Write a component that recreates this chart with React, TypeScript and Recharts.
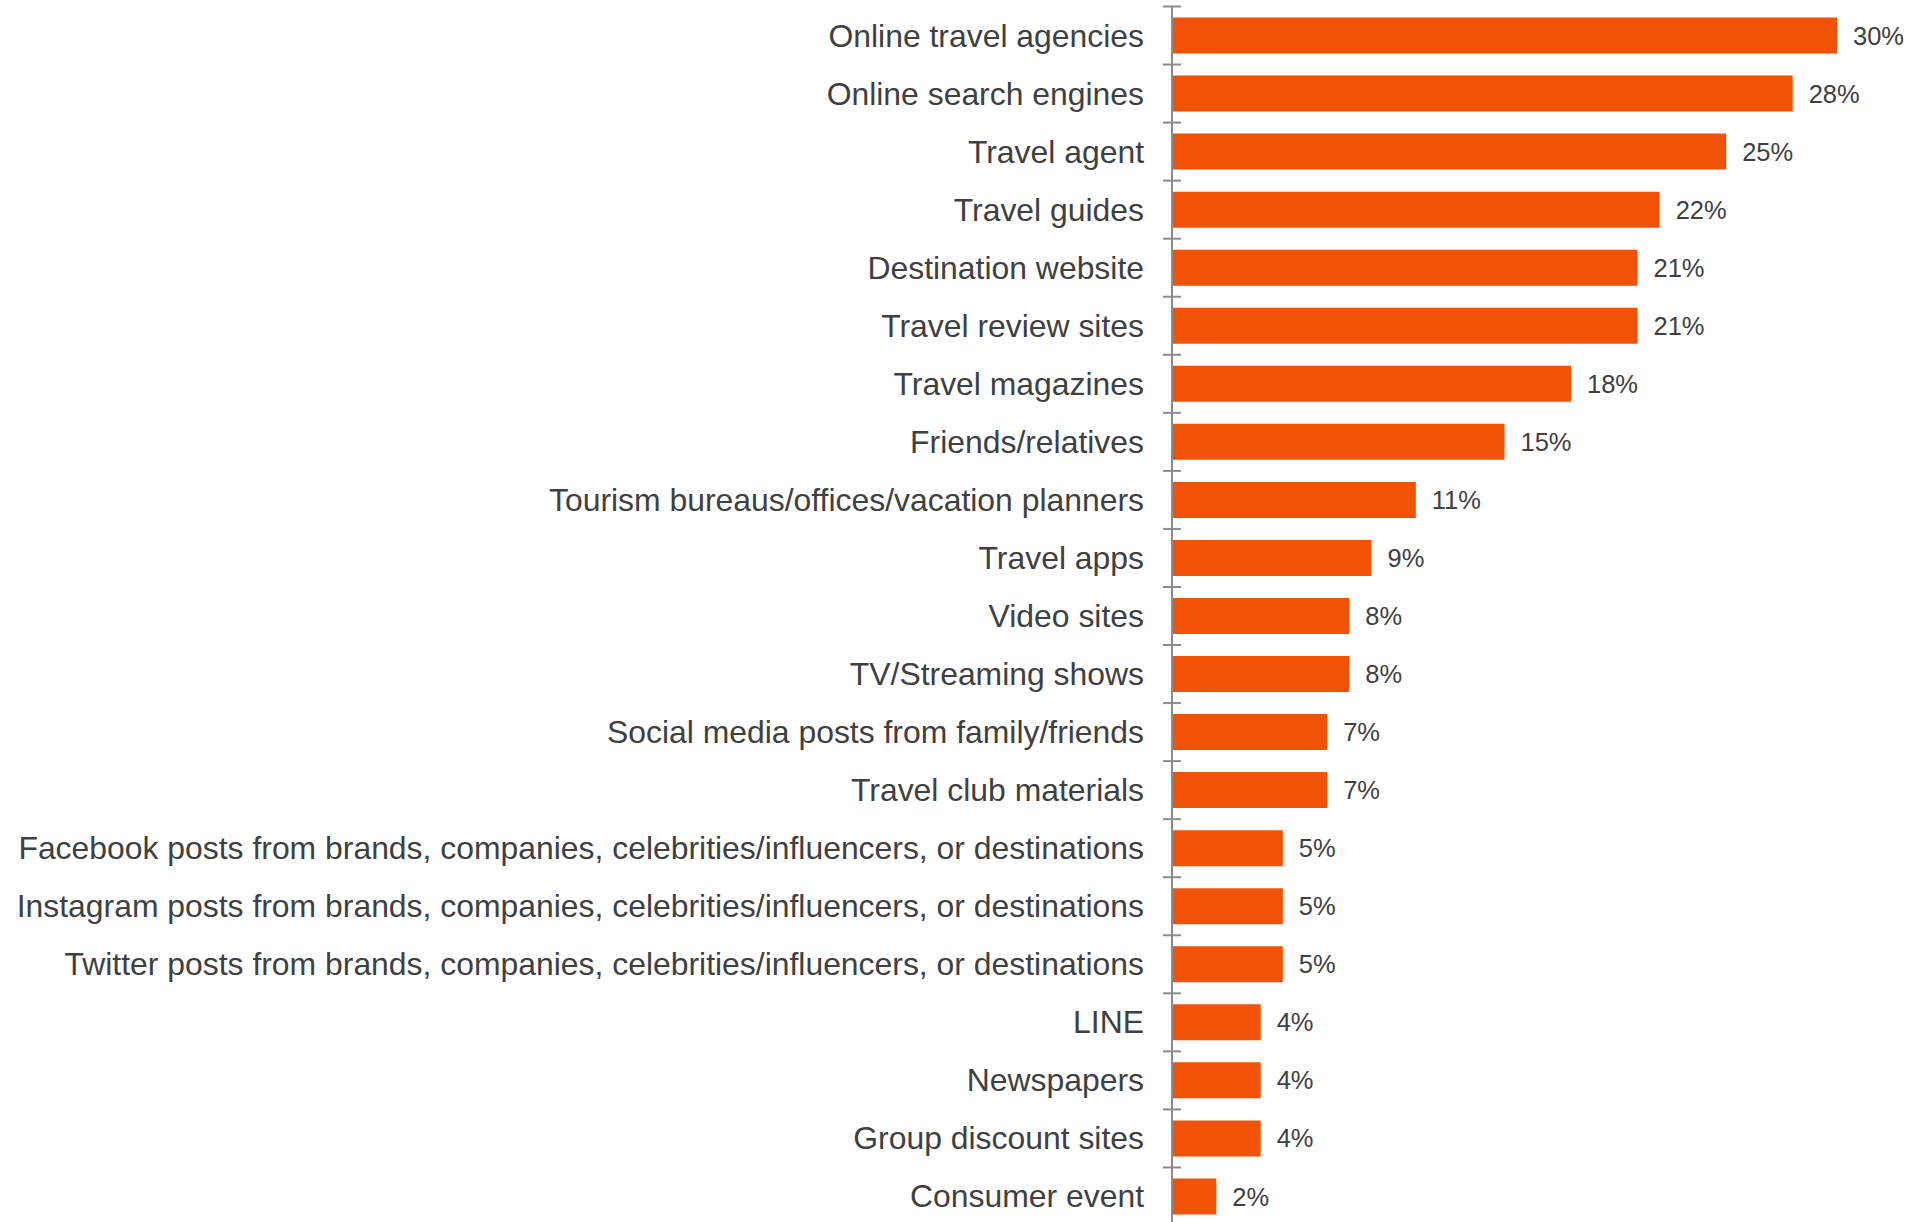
import React from "react";
import { BarChart, Bar, XAxis, YAxis, LabelList } from "recharts";

const categories = [
  "Online travel agencies",
  "Online search engines",
  "Travel agent",
  "Travel guides",
  "Destination website",
  "Travel review sites",
  "Travel magazines",
  "Friends/relatives",
  "Tourism bureaus/offices/vacation planners",
  "Travel apps",
  "Video sites",
  "TV/Streaming shows",
  "Social media posts from family/friends",
  "Travel club materials",
  "Facebook posts from brands, companies, celebrities/influencers, or destinations",
  "Instagram posts from brands, companies, celebrities/influencers, or destinations",
  "Twitter posts from brands, companies, celebrities/influencers, or destinations",
  "LINE",
  "Newspapers",
  "Group discount sites",
  "Consumer event",
];

const shares = [30, 28, 25, 22, 21, 21, 18, 15, 11, 9, 8, 8, 7, 7, 5, 5, 5, 4, 4, 4, 2];

const data = categories.map((name, i) => ({ name, value: shares[i] }));

const WIDTH = 1906;
const HEIGHT = 1222;
const AXIS_W = 1172;
const TOP = 6.5;
const BOTTOM = -3.5;
const BAND = (HEIGHT - TOP - BOTTOM) / categories.length;
const FONT = "'Liberation Sans', Arial, sans-serif";

function CategoryTick(props: any) {
  const { y, payload, index } = props;
  const last = index === categories.length - 1;
  return (
    <g>
      <text
        x={AXIS_W - 28}
        y={y}
        textAnchor="end"
        dominantBaseline="central"
        fontSize={31.9}
        fontFamily={FONT}
        fill="#404040"
      >
        {payload.value}
      </text>
      <line x1={AXIS_W - 9} x2={AXIS_W + 9} y1={y - BAND / 2} y2={y - BAND / 2} stroke="#8c8c8c" strokeWidth={2} />
      {last && (
        <line x1={AXIS_W - 9} x2={AXIS_W + 9} y1={y + BAND / 2} y2={y + BAND / 2} stroke="#8c8c8c" strokeWidth={2} />
      )}
    </g>
  );
}

export default function App() {
  return (
    <div style={{ position: "absolute", left: 0, top: 0, background: "#fff" }}>
      <BarChart
        width={WIDTH}
        height={HEIGHT}
        data={data}
        layout="vertical"
        margin={{ top: TOP, right: 69, bottom: BOTTOM, left: 0 }}
      >
        <XAxis type="number" domain={[0, 30]} hide />
        <YAxis
          type="category"
          dataKey="name"
          width={AXIS_W}
          interval={0}
          tickLine={false}
          tickSize={0}
          axisLine={{ stroke: "#8c8c8c", strokeWidth: 2 }}
          tick={<CategoryTick />}
        />
        <Bar dataKey="value" fill="#F05207" barSize={36} isAnimationActive={false}>
          <LabelList
            dataKey="value"
            position="right"
            offset={16}
            formatter={(v: any) => `${v}%`}
            style={{ fontSize: 25.5, fontFamily: FONT, fill: "#404040" }}
          />
        </Bar>
      </BarChart>
    </div>
  );
}
